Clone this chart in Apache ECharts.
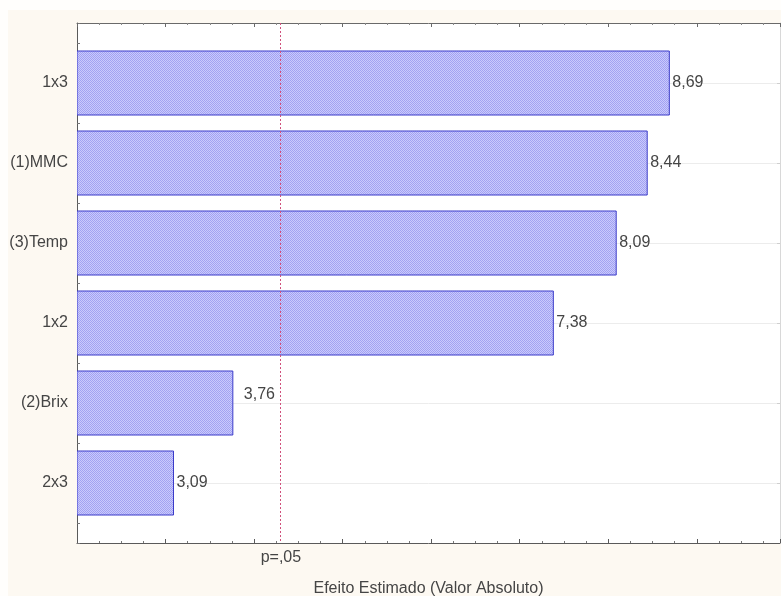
<!DOCTYPE html>
<html>
<head>
<meta charset="utf-8">
<script src="https://cdn.jsdelivr.net/npm/echarts@6/dist/echarts.min.js"></script>
<style>
  html, body { margin: 0; padding: 0; background: #fffefc; }
  #chart { width: 781px; height: 596px; }
</style>
</head>
<body>
<div id="chart"></div>
<script>
// Pareto chart of standardized effects
const categories = ['1x3', '(1)MMC', '(3)Temp', '1x2', '(2)Brix', '2x3'];
const effects = [8.69, 8.44, 8.09, 7.38, 3.76, 3.09];
const pCritical = 4.303;          // t critical value, p = .05
const pLabel = 'p=,05';
const xTitle = 'Efeito Estimado (Valor Absoluto)';
const positions = [1, 2, 3, 4, 5, 6];

const fmt = v => v.toFixed(2).replace('.', ',');

// dithered bar fill
const tile = document.createElement('canvas');
tile.width = 2; tile.height = 2;
const tg = tile.getContext('2d');
tg.fillStyle = '#cacafc'; tg.fillRect(0, 0, 2, 2);
tg.fillStyle = '#a2a2f2'; tg.fillRect(0, 0, 1, 1); tg.fillRect(1, 1, 1, 1);
const barFill = { type: 'pattern', image: tile, repeat: 'repeat' };

const FONT = '"Liberation Sans", Arial, sans-serif';
const TXT = '#454545';

const chart = echarts.init(document.getElementById('chart'), null, { renderer: 'canvas' });

chart.setOption({
  animation: false,
  backgroundColor: '#fdf9f2',
  textStyle: { fontFamily: FONT },
  grid: {
    left: 77, right: 1, top: 23, bottom: 53,
    outerBoundsMode: 'none', containLabel: false,
    show: true, backgroundColor: '#ffffff', borderWidth: 0
  },
  xAxis: [
    {
      type: 'value', position: 'bottom', min: 2, max: 9.94, interval: 1,
      axisLine: { show: true, lineStyle: { color: '#5a5a5a', width: 1 } },
      axisTick: { show: true, inside: true, length: 4, lineStyle: { color: '#5a5a5a' } },
      minorTick: { show: true, splitNumber: 4, length: 2, lineStyle: { color: '#777' } },
      splitLine: { show: false },
      axisLabel: {
        customValues: [pCritical], formatter: () => pLabel,
        fontSize: 16, color: TXT, margin: 7, fontFamily: FONT
      },
      name: xTitle, nameLocation: 'middle', nameGap: 38,
      nameTextStyle: { fontSize: 16, color: TXT, fontFamily: FONT }
    },
    {
      type: 'value', position: 'top', min: 2, max: 9.94, interval: 1,
      axisLine: { show: true, onZero: false, lineStyle: { color: '#6a6a6a', width: 1 } },
      axisTick: { show: true, inside: true, length: 4, lineStyle: { color: '#6a6a6a' } },
      minorTick: { show: true, splitNumber: 4, length: 2, lineStyle: { color: '#888' } },
      splitLine: { show: false },
      axisLabel: { show: false }
    }
  ],
  yAxis: [
    {
      type: 'value', position: 'left', inverse: true, min: 0.25, max: 6.75, interval: 0.25,
      axisLine: { show: true, onZero: false, lineStyle: { color: '#5a5a5a', width: 1 } },
      axisTick: { show: true, inside: true, length: 3, lineStyle: { color: '#777' } },
      splitLine: { show: false },
      axisLabel: {
        customValues: positions, formatter: v => categories[Math.round(v) - 1],
        fontSize: 16, color: TXT, margin: 9, fontFamily: FONT
      }
    },
    {
      type: 'value', position: 'right', inverse: true, min: 0.25, max: 6.75, interval: 0.25,
      axisLine: { show: true, onZero: false, lineStyle: { color: '#d8d8d8', width: 1 } },
      axisTick: { show: true, inside: true, length: 3, customValues: positions, lineStyle: { color: '#cfcfcf' } },
      splitLine: { show: true, lineStyle: { color: '#ececec', width: 1 } },
      axisLabel: { show: false }
    }
  ],
  series: [
    {
      type: 'custom',
      xAxisIndex: 0, yAxisIndex: 0,
      clip: true,
      z: 3,
      data: effects.map((v, i) => [v, positions[i]]),
      renderItem: (params, api) => {
        const val = api.value(0);
        const pos = api.value(1);
        const p0 = api.coord([0, pos]);
        const p1 = api.coord([val, pos]);
        const h = api.size([0, 0.8])[1];
        const cs = params.coordSys;
        const shape = echarts.graphic.clipRectByRect(
          { x: p0[0], y: p0[1] - h / 2, width: p1[0] - p0[0], height: h },
          { x: cs.x, y: cs.y, width: cs.width, height: cs.height }
        );
        // the (2)Brix value sits a little off its bar end
        const nudge = params.dataIndex === 4 ? [8, -8] : [0, 0];
        return {
          type: 'group',
          children: [
            {
              type: 'rect', shape: shape,
              style: { fill: barFill, stroke: '#3b3bc9', lineWidth: 1 }
            },
            {
              type: 'text',
              x: p1[0] + 3 + nudge[0], y: p1[1] + nudge[1],
              style: {
                text: fmt(val), fill: TXT, font: '16px ' + FONT,
                textAlign: 'left', textVerticalAlign: 'middle'
              }
            }
          ]
        };
      },
      markLine: {
        silent: true, symbol: 'none', animation: false,
        label: { show: false },
        lineStyle: { color: '#d0507c', type: [2, 2], width: 1 },
        data: [{ xAxis: pCritical }]
      }
    }
  ],
  graphic: [
    { type: 'rect', left: 0, top: 0, z: 100, shape: { width: 8, height: 596 }, style: { fill: '#fffefc' } },
    { type: 'rect', left: 0, top: 0, z: 100, shape: { width: 781, height: 10 }, style: { fill: '#fffefc' } }
  ]
});
</script>
</body>
</html>
